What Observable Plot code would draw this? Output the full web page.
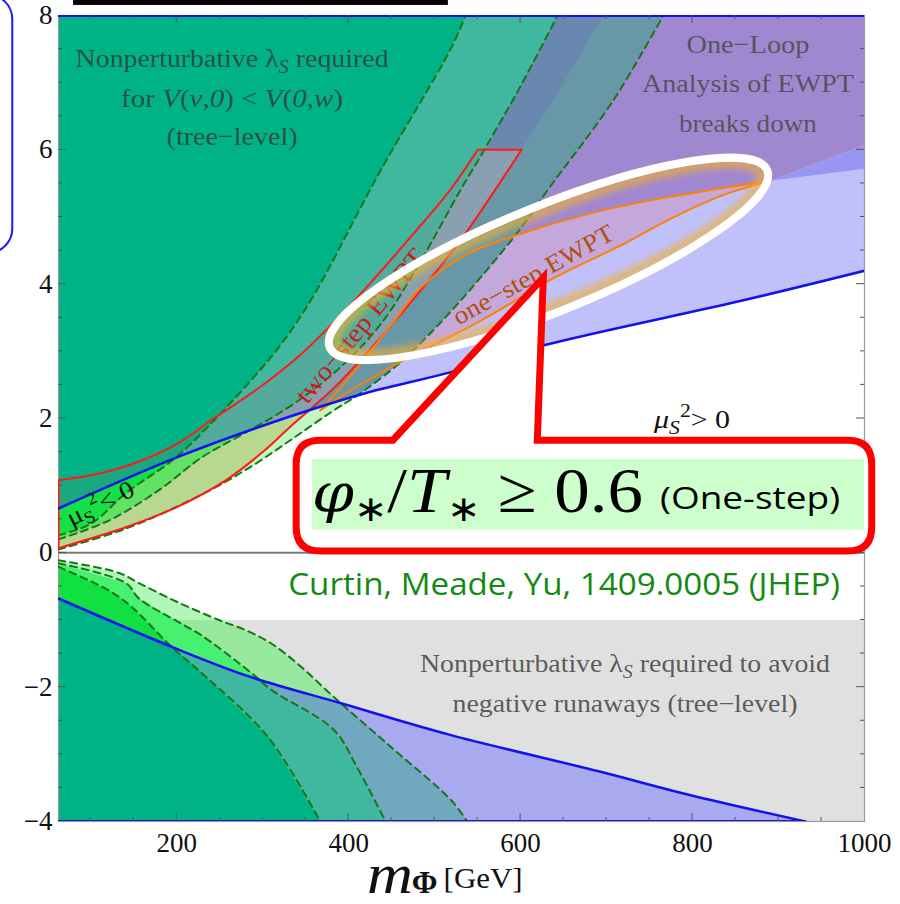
<!DOCTYPE html>
<html><head><meta charset="utf-8">
<script src="https://cdn.jsdelivr.net/npm/d3@7"></script>
<script src="https://cdn.jsdelivr.net/npm/@observablehq/plot@0.6"></script>
<style>body{margin:0;background:#fff;}#chart{width:900px;height:904px;overflow:hidden;}</style>
</head><body><div id="chart"></div>
<script>
// ---------- axes ----------
const xDomain = [62.5, 1000];
const yDomain = [-4, 8];
const xTickLabels = [200, 400, 600, 800, 1000];
const yTickLabels = [-4, -2, 0, 2, 4, 6, 8];
const xMinorTicks = [100,150,250,300,350,450,500,550,650,700,750,850,900,950];
const xMajorTicks = [200,400,600,800];
const yMinorTicks = [-3.5,-3,-2.5,-1.5,-1,-0.5,0.5,1,1.5,2.5,3,3.5,4.5,5,5.5,6.5,7,7.5];
const yMajorTicks = [-2,0,2,4,6];

// ---------- boundary curves [m_Phi (GeV), lambda] ----------
const blueUpper = [[62.5,0.66],[200,1.42],[295,1.87],[412,2.35],[519,2.69],[627,3.09],[859,3.76],[1000,4.2]];
const blueLower = [[62.5,-0.68],[200,-1.43],[284,-1.84],[394,-2.25],[518,-2.71],[693,-3.26],[798,-3.61],[931,-4]];
const redUpper  = [[62.5,1.08],[110,1.18],[150,1.33],[200,1.62],[243,2.0],[295,2.45],[344,2.95],[399,3.65],[476,4.76],[519,5.42],[550,6.0]];
const redLower  = [[62.5,0.07],[140.7,0.38],[200,0.68],[257,1.08],[300,1.5],[334,1.9],[385,2.48],[437,3.2],[484,3.91],[530,4.65],[601,6.0]];
const orangeUpper = [[367,2.12],[400,2.6],[450,3.4],[484,3.95],[538,4.45],[600,4.75],[680,5.05],[760,5.27],[830,5.42],[891,5.54]];
const orangeLower = [[367,2.12],[400,2.4],[457,2.82],[553,3.45],[640,4.1],[720,4.6],[771,4.95],[830,5.3],[891,5.54]];
const upperExt = [[891,5.54],[1000,6.07]];
const lowerExt = [[891,5.54],[1000,5.72]];
const twoStepEdge = [[601,6.0],[638,6.73],[696,8]];
const dash1 = [[62.5,0.26],[101,0.44],[141,0.89],[199,1.42],[247,2.02],[290,2.62],[321,3.1],[356,3.76],[437,5.69],[519,7.51],[536,8]];
const dash2 = [[62.5,0.2],[121,0.48],[179,0.93],[229,1.42],[280,1.79],[334,2.2],[385,2.7],[437,3.4],[484,4.35],[530,5.4],[560,6.05],[600,6.95],[643,8]];
const dash3 = [[62.5,0.05],[140.7,0.36],[227.9,0.86],[286,1.28],[332.6,1.68],[379,2.09],[414,2.38],[460.5,2.84],[507,3.43],[553.5,4.1],[600,4.83],[631.4,5.4],[708,6.74],[766,8]];
const dashL1 = [[62.5,-0.21],[121,-0.56],[148,-0.81],[194,-1.40],[229,-1.79],[306,-2.74],[367,-4]];
const dashL2 = [[62.5,-0.155],[141,-0.45],[156,-0.68],[202,-1.03],[229,-1.23],[287,-1.79],[310,-2.04],[383,-2.64],[410,-3.2],[443,-4]];
const dashL3 = [[62.5,-0.11],[133,-0.30],[156,-0.45],[202,-0.74],[249,-1.0],[280,-1.15],[310,-1.35],[345,-1.7],[383,-2.15],[450,-2.9],[519,-3.68],[538,-4]];
const runawayLimit = -1;
const crossings = {d1BU:[199,1.42], d2BU:[280,1.79], d3BU:[414,2.36], rlBU:[355,2.11], d1RU:[246,2.02], d2top:[557.7,6.0],
  l1BL:[194,-1.40], l2BL:[297,-1.89], l3BL:[392,-2.24], l3gray:[249,-1.0]};

// ---------- colours ----------
const C = {lav:"#c0c0fb", purple:"#a088d0", wedge:"#9898f4", lilac:"#c4a8dc",
  g3:"#6898a8", g3below:"#c2f6c2", two:"#8aa0b0", twoBelow:"#b8d890", strip:"#6888b0",
  g2:"#40b8a0", g2two:"#52ab9c", g2below:"#62e262", g1:"#00b386", g1two:"#1aa880", g1below:"#14e244",
  gray:"#e0e0e0", blueLow:"#a9a9ef", g3L:"#b0f8b8", g3Lgray:"#98e8a0", g3Lblue:"#70a8c0",
  g2L:"#48f070", g2Lblue:"#40b8a0", g1L:"#10e040", g1Lblue:"#00b386",
  blue:"#1212ee", red:"#ff1a1a", orange:"#ff8000", dash:"#157815"};

// ---------- build polygons ----------
const [x0, x1] = xDomain, [y0, y1] = yDomain;
const upTo = (c, X) => c.filter(p => p[0] < X);
const from = (c, X) => c.filter(p => p[0] > X);
const rev = c => c.slice().reverse();
const k = crossings;
const polys = [
  [[...blueUpper, [x1,y1], [x0,y1]], C.lav],
  [[...upTo(blueUpper, 367), ...orangeUpper, upperExt[1], [x1,y1], [x0,y1]], C.purple],
  [[upperExt[0], upperExt[1], lowerExt[1]], C.wedge],
  [[...orangeUpper, ...rev(orangeLower)], C.lilac],
  [[...dash3, [x0,y1]], C.g3],
  [[...upTo(dash3, k.d3BU[0]), k.d3BU, ...rev(upTo(blueUpper, k.d3BU[0]))], C.g3below],
  [[...redUpper, ...rev(redLower)], C.two],
  [[...upTo(redLower, k.rlBU[0]), k.rlBU, ...rev(upTo(blueUpper, k.rlBU[0]))], C.twoBelow],
  [[[560,6.0], ...twoStepEdge, [643,8], [600,6.95]], C.strip],
  [[...dash2, [x0,y1]], C.g2],
  [[...redUpper, k.d2top, ...rev(upTo(dash2, k.d2top[0]))], C.g2two],
  [[...upTo(dash2, k.d2BU[0]), k.d2BU, ...rev(upTo(blueUpper, k.d2BU[0]))], C.g2below],
  [[...dash1, [x0,y1]], C.g1],
  [[...upTo(redUpper, k.d1RU[0]), k.d1RU, k.d1BU, ...rev(upTo(blueUpper, k.d1BU[0]))], C.g1two],
  [[...upTo(dash1, k.d1BU[0]), k.d1BU, ...rev(upTo(blueUpper, k.d1BU[0]))], C.g1below],
  // lower half
  [[[x0,runawayLimit],[x1,runawayLimit],[x1,y0],[x0,y0]], C.gray],
  [[...blueLower, [x0,y0]], C.blueLow],
  [[...dashL3, [x0,y0]], C.g3L],
  [[[x0,runawayLimit], k.l3gray, ...from(dashL3, k.l3gray[0]), [x0,y0]], C.g3Lgray],
  [[...upTo(blueLower, k.l3BL[0]), k.l3BL, ...from(dashL3, k.l3BL[0]), [x0,y0]], C.g3Lblue],
  [[...dashL2, [x0,y0]], C.g2L],
  [[...upTo(blueLower, k.l2BL[0]), k.l2BL, ...from(dashL2, k.l2BL[0]), [x0,y0]], C.g2Lblue],
  [[...dashL1, [x0,y0]], C.g1L],
  [[...upTo(blueLower, k.l1BL[0]), k.l1BL, ...from(dashL1, k.l1BL[0]), [x0,y0]], C.g1Lblue],
];

const X = d => d[0], Y = d => d[1];
const fillMark = ([pts, col]) => Plot.line(pts, {x: X, y: Y, fill: col, stroke: "none", curve: "linear-closed", clip: true});
const lineMark = (pts, o) => Plot.line(pts, {x: X, y: Y, clip: true, curve: "catmull-rom", ...o});
const dashOpt = {stroke: C.dash, strokeWidth: 2, strokeDasharray: "7,5"};
const redOpt = {stroke: C.red, strokeWidth: 2};

const chart = Plot.plot({
  width: 900, height: 904,
  marginLeft: 58, marginRight: 36, marginTop: 15, marginBottom: 83,
  x: {domain: xDomain, ticks: xTickLabels, tickFormat: d => String(d), tickSize: 0, tickPadding: 11, label: null},
  y: {domain: yDomain, ticks: yTickLabels, tickSize: 0, tickPadding: 6, label: null},
  style: {fontFamily: "Liberation Serif, serif", fontSize: "27px", color: "#111", background: "white"},
  marks: [
    ...polys.map(fillMark),
    Plot.ruleY([0], {stroke: "#7a7a7a", strokeWidth: 2}),
    Plot.frame({stroke: "#9a9a9a", strokeWidth: 1.2}),
    ...[dash1, dash2, dash3, dashL1, dashL2, dashL3].map(c => lineMark(c, dashOpt)),
    lineMark(redUpper, redOpt),
    lineMark(redLower, redOpt),
    lineMark([redUpper[redUpper.length-1], redLower[redLower.length-1]], {...redOpt, curve: "linear"}),
    lineMark([redUpper[0], redLower[0]], {...redOpt, curve: "linear"}),
    lineMark(orangeUpper, {stroke: C.orange, strokeWidth: 2}),
    lineMark(orangeLower, {stroke: C.orange, strokeWidth: 2}),
    lineMark(blueUpper, {stroke: C.blue, strokeWidth: 2.5}),
    lineMark(blueLower, {stroke: C.blue, strokeWidth: 2.5}),
    lineMark([[x0,y1],[x1,y1]], {stroke: C.blue, strokeWidth: 3, curve: "linear"}),
    lineMark([[x0,y0],[blueLower[blueLower.length-1][0], y0]], {stroke: C.blue, strokeWidth: 3, curve: "linear"}),
  ]
});
document.getElementById("chart").appendChild(chart);

// ---------- annotations via the plot's scales ----------
const sx = chart.scale("x"), sy = chart.scale("y");
const px = v => sx.apply(v), py = v => sy.apply(v);
const svg = d3.select(chart);

// ticks (inward, Mathematica-style)
const tg = svg.append("g").attr("stroke", "#555").attr("stroke-width", 1);
const tick = (xa, ya, xb, yb) => tg.append("line").attr("x1", xa).attr("y1", ya).attr("x2", xb).attr("y2", yb);
for (const [arr, len] of [[xMinorTicks, 4], [xMajorTicks, 8]]) for (const v of arr) {
  tick(px(v), py(y0), px(v), py(y0) - len); tick(px(v), py(y1), px(v), py(y1) + len);
}
for (const [arr, len] of [[yMinorTicks, 4], [yMajorTicks, 8]]) for (const v of arr) {
  tick(px(x0), py(v), px(x0) + len, py(v)); tick(px(x1), py(v), px(x1) - len, py(v));
}

function rich(x, y, parts, o = {}) {
  const t = svg.append("text").attr("x", x).attr("y", y)
    .attr("text-anchor", o.anchor || "middle")
    .attr("font-family", o.font || "Liberation Serif, serif")
    .attr("font-size", o.size || 24)
    .attr("fill", o.fill || "#333");
  if (o.opacity) t.attr("fill-opacity", o.opacity);
  if (o.weight) t.attr("font-weight", o.weight);
  if (o.italic) t.attr("font-style", "italic");
  if (o.rotate) t.attr("transform", `rotate(${o.rotate},${x},${y})`);
  if (o.textLength) t.attr("textLength", o.textLength).attr("lengthAdjust", "spacingAndGlyphs");
  for (const p of parts) {
    const s = t.append("tspan").text(p.t);
    if (p.i) s.attr("font-style", "italic");
    if (p.dy) s.attr("dy", p.dy);
    if (p.fs) s.attr("font-size", p.fs);
    if (p.font) s.attr("font-family", p.font);
  }
  return t;
}

const regionText = {fill: "#333", opacity: 0.78, size: 26};
rich(px(265), py(7.226), [{t:"Nonperturbative λ"},{t:"S",i:1,dy:6,fs:19},{t:" required",dy:-6}], {...regionText, textLength: 313});
rich(px(265), py(6.631), [{t:"for "},{t:"V",i:1},{t:"("},{t:"v",i:1},{t:","},{t:"0",i:1},{t:") < "},{t:"V",i:1},{t:"("},{t:"0",i:1},{t:","},{t:"w",i:1},{t:")"}], {...regionText, textLength: 222});
rich(px(265), py(6.065), [{t:"(tree−level)"}], {...regionText, textLength: 131});
const loopText = {fill: "#4a4a4a", opacity: 0.85, size: 26};
rich(px(865), py(7.434), [{t:"One−Loop"}], {...loopText, textLength: 123});
rich(px(865), py(6.854), [{t:"Analysis of EWPT"}], {...loopText, textLength: 212});
rich(px(865), py(6.259), [{t:"breaks down"}], {...loopText, textLength: 138});
const runText = {fill: "#4a4a4a", opacity: 0.9, size: 25};
rich(px(722), py(-1.777), [{t:"Nonperturbative λ"},{t:"S",i:1,dy:6,fs:18},{t:" required to avoid",dy:-6}], {...runText, textLength: 410});
rich(px(722), py(-2.372), [{t:"negative runaways (tree−level)"}], {...runText, textLength: 345});
rich(px(422), py(3.426) + 9, [{t:"two−step EWPT"}], {fill: "#cc1a1a", size: 26, rotate: -51, textLength: 190});
rich(px(620), py(4.161) + 9, [{t:"one−step EWPT"}], {fill: "#b0500a", size: 25, rotate: -29, textLength: 180});
rich(px(116), py(0.738) + 8, [{t:"μ"},{t:"S",dy:5,fs:17},{t:"2",dy:-16,fs:17},{t:"< 0",dy:11}], {fill: "#111", size: 25, rotate: -26, textLength: 72});
rich(px(755.8), py(1.854), [{t:"μ",i:1},{t:"S",i:1,dy:6,fs:18},{t:"2",dy:-17,fs:18},{t:"> 0",dy:11}], {fill: "#111", size: 25, anchor: "start", textLength: 76});

// axis title
rich(px(422), py(-5.065), [{t:"m"}], {fill:"#111", size: 56, anchor: "start", italic: true, textLength: 46});
rich(px(474), py(-5.065), [{t:"Φ"}], {fill:"#111", size: 31, anchor: "start", weight: "bold"});
rich(px(511), py(-4.991), [{t:"[GeV]"}], {fill:"#111", size: 29, anchor: "start", textLength: 79});

// highlight ellipse
const defs = svg.append("defs");
defs.append("filter").attr("id", "glow").attr("x", "-20%").attr("y", "-50%").attr("width", "140%").attr("height", "200%")
  .append("feGaussianBlur").attr("stdDeviation", 3.5);
const ell = {m: 633, l: 4.37};
const ecx = px(ell.m), ecy = py(ell.l);
svg.append("ellipse").attr("cx", ecx).attr("cy", ecy).attr("rx", 229).attr("ry", 46)
  .attr("transform", `rotate(-22,${ecx},${ecy})`).attr("fill", "none")
  .attr("stroke", "#f0b030").attr("stroke-width", 9).attr("opacity", 0.75).attr("filter", "url(#glow)");
svg.append("ellipse").attr("cx", ecx).attr("cy", ecy).attr("rx", 236).attr("ry", 53)
  .attr("transform", `rotate(-22,${ecx},${ecy})`).attr("fill", "none")
  .attr("stroke", "#fff").attr("stroke-width", 8);

// callout
const box = {left: 339.5, right: 1009, top: 1.67, bottom: 0.02, baseL: 452, tipM: 627, tipL: 4.09, baseR: 620};
const bx0 = px(box.left), bx1 = px(box.right), by0 = py(box.top), by1 = py(box.bottom), r = 24;
const d = `M${bx0+r},${by0} L${px(box.baseL)},${by0} L${px(box.tipM)},${py(box.tipL)} L${px(box.baseR)},${by0} L${bx1-r},${by0}
  Q${bx1},${by0} ${bx1},${by0+r} L${bx1},${by1-r} Q${bx1},${by1} ${bx1-r},${by1} L${bx0+r},${by1}
  Q${bx0},${by1} ${bx0},${by1-r} L${bx0},${by0+r} Q${bx0},${by0} ${bx0+r},${by0} Z`;
svg.append("path").attr("d", d).attr("fill", "#fff").attr("stroke", "#ff0000").attr("stroke-width", 7).attr("stroke-linejoin", "miter");
const hl = {left: 358, right: 1000, top: 1.39, bottom: 0.336};
svg.append("rect").attr("x", px(hl.left)).attr("y", py(hl.top)).attr("width", px(hl.right) - px(hl.left))
  .attr("height", py(hl.bottom) - py(hl.top)).attr("fill", "#ccffcc");
rich(px(358), py(0.604), [{t:"φ",i:1,font:"DejaVu Serif, serif",fs:54},{t:"∗",dy:9,fs:36},{t:"/",dy:-9},{t:"T",i:1},{t:"∗",dy:9,fs:36},{t:" ≥ 0.6",dy:-9}],
  {fill: "#000", size: 64, anchor: "start", textLength: 331});
rich(px(762.8), py(0.649), [{t:"(One-step)"}], {fill: "#000", size: 31, anchor: "start", font: "Open Sans, sans-serif", textLength: 180});
rich(px(330.2), py(-0.631), [{t:"Curtin, Meade, Yu, 1409.0005 (JHEP)"}], {fill: "#138a13", size: 31, anchor: "start", font: "Open Sans, sans-serif", textLength: 552});

// cut-off fragments at the edges of the picture
const topBar = {m0: 80, m1: 516, l0: 8.223, l1: 8.15};
svg.append("rect").attr("x", px(topBar.m0)).attr("y", py(topBar.l0)).attr("width", px(topBar.m1) - px(topBar.m0))
  .attr("height", py(topBar.l1) - py(topBar.l0)).attr("fill", "#000");
const sideBox = {m0: -80, m1: 9.3, l0: 8.3, l1: 4.46};
svg.append("rect").attr("x", px(sideBox.m0)).attr("y", py(sideBox.l0)).attr("width", px(sideBox.m1) - px(sideBox.m0))
  .attr("height", py(sideBox.l1) - py(sideBox.l0)).attr("rx", 24).attr("fill", "none").attr("stroke", "#1a1aff").attr("stroke-width", 2);
</script></body></html>
